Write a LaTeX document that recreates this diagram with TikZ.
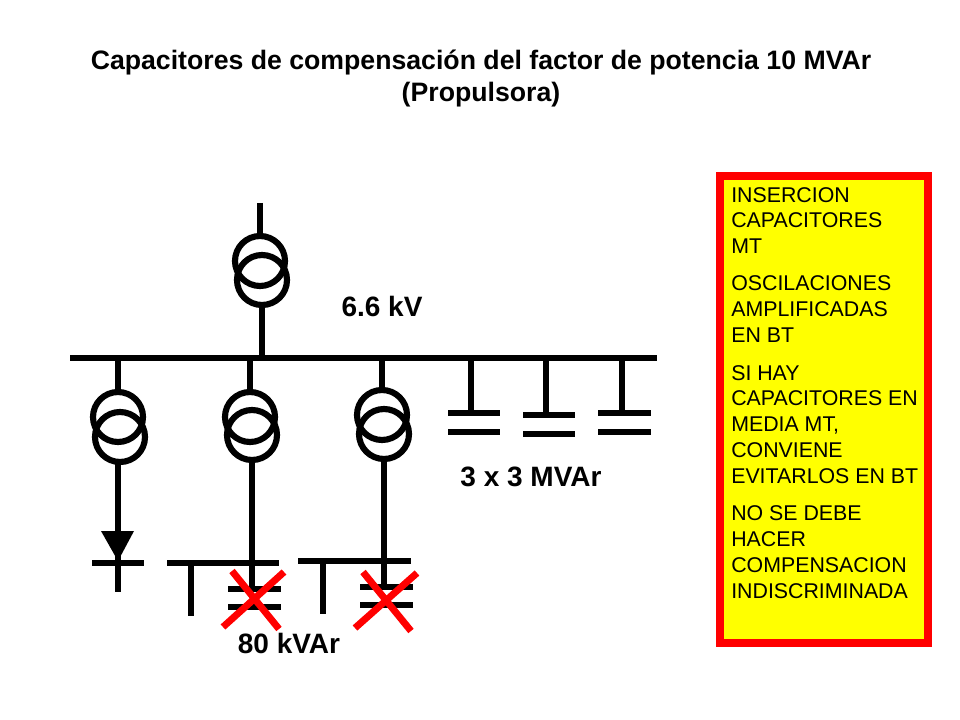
\documentclass[tikz,border=0pt]{standalone}
\usepackage{fontspec}
\setmainfont{Liberation Sans}
\definecolor{notefill}{RGB}{255,255,0}
\definecolor{noteedge}{RGB}{255,0,0}
\tikzset{
  wire/.style={line width=4.2pt,line cap=butt},
  winding/.style={circle,draw,line width=4.6pt,minimum size=37.5pt,inner sep=0pt,outer sep=0pt},
  cross/.style={draw=noteedge,line width=5.2pt},
  lbl/.style={font=\fontsize{21}{25}\selectfont\bfseries,inner sep=0pt},
}
\begin{document}
\begin{tikzpicture}[x=0.75pt,y=-0.75pt]
\useasboundingbox (0,0) rectangle (960,720);
% title
\node[font=\fontsize{20}{24}\selectfont\bfseries,align=center,inner sep=0pt] (title) at (481,78)
  {Capacitores de compensación del factor de potencia 10 MVAr\\(Propulsora)};
% note box
\node[draw=noteedge,fill=notefill,line width=6pt,minimum width=156pt,minimum height=350pt,inner sep=0pt] (note) at (824,409.5) {};
\node[font=\fontsize{16}{19.3}\selectfont,align=left,anchor=north west,inner sep=0pt] (notetext) at (731,187)
  {INSERCION\\CAPACITORES\\MT\\[8.7pt]OSCILACIONES\\AMPLIFICADAS\\EN BT\\[9pt]SI HAY\\CAPACITORES EN\\MEDIA MT,\\CONVIENE\\EVITARLOS EN BT\\[9pt]NO SE DEBE\\HACER\\COMPENSACION\\INDISCRIMINADA};
% bus
\coordinate (busL) at (70,358); \coordinate (busR) at (657,358);
\draw[wire] (busL) -- (busR);
% top transformer
\coordinate (feed) at (260,203);
\node[winding] (t0a) at (260,261) {};
\node[winding] (t0b) at (262,280) {};
\coordinate (b0) at (262,358);
\draw[wire] (feed) -- (t0a.north);
\draw[wire] (t0b.south) -- (b0);
% left branch
\node[winding] (t1a) at (118,417) {};
\node[winding] (t1b) at (120,437) {};
\coordinate (b1) at (118,358); \coordinate (d1) at (118,592);
\coordinate (dbL) at (92,563); \coordinate (dbR) at (144,563);
\draw[wire] (b1) -- (t1a.north);
\draw[wire] (t1b.south -| b1) -- (d1);
\draw[wire] (dbL) -- (dbR);
\fill (101,531) -- (134,531) -- (118,561) -- cycle;
% middle branch
\node[winding] (t2a) at (250,417) {};
\node[winding] (t2b) at (252,435) {};
\coordinate (b2) at (250,358); \coordinate (c2) at (252,589);
\coordinate (lv2L) at (167,563); \coordinate (lv2R) at (279,563);
\coordinate (T2a) at (191,563); \coordinate (T2b) at (191,616);
\draw[wire] (b2) -- (t2a.north);
\draw[wire] (t2b.south) -- (c2);
\draw[wire] (lv2L) -- (lv2R);
\draw[wire] (T2a) -- (T2b);
\draw[wire] (228,589) -- (281,589);
\draw[wire] (228,607) -- (281,607);
% right branch
\node[winding] (t3a) at (382,415) {};
\node[winding] (t3b) at (384,434) {};
\coordinate (b3) at (382,358); \coordinate (c3) at (384,587);
\coordinate (lv3L) at (298,561); \coordinate (lv3R) at (411,561);
\coordinate (T3a) at (323,561); \coordinate (T3b) at (323,614);
\draw[wire] (b3) -- (t3a.north);
\draw[wire] (t3b.south) -- (c3);
\draw[wire] (lv3L) -- (lv3R);
\draw[wire] (T3a) -- (T3b);
\draw[wire] (360,587) -- (413,587);
\draw[wire] (360,605) -- (413,605);
% MV capacitors
\coordinate (k1) at (471,358); \coordinate (k1p) at (471,413);
\coordinate (k2) at (546,358); \coordinate (k2p) at (546,415);
\coordinate (k3) at (622,358); \coordinate (k3p) at (622,413);
\draw[wire] (k1) -- (k1p);
\draw[wire] (k2) -- (k2p);
\draw[wire] (k3) -- (k3p);
\draw[wire] (448,413) -- (500,413);
\draw[wire] (448,432) -- (500,432);
\draw[wire] (523,415) -- (575,415);
\draw[wire] (523,434) -- (575,434);
\draw[wire] (598,413) -- (651,413);
\draw[wire] (598,432) -- (651,432);
% red crosses
\draw[cross] (232,571) -- (279,629);
\draw[cross] (284,572) -- (223,627);
\draw[cross] (363,572) -- (411,631);
\draw[cross] (417,573) -- (355,628);
% labels
\node[lbl] (l66) at (382,306) {6.6 kV};
\node[lbl] (l33) at (531,477) {3 x 3 MVAr};
\node[lbl] (l80) at (289,643) {80 kVAr};
\end{tikzpicture}
\end{document}
